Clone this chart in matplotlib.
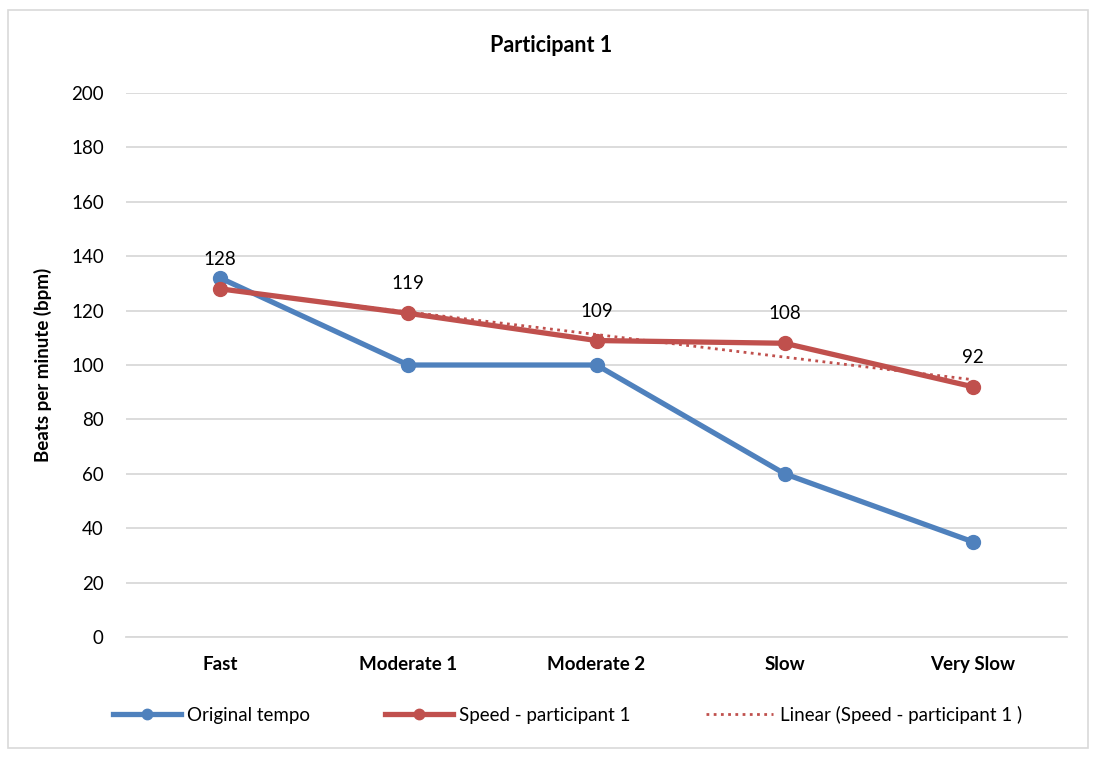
import numpy as np
import matplotlib.pyplot as plt
from matplotlib.patches import Rectangle

plt.rcParams['font.family'] = ['Lato', 'DejaVu Sans']

# Tempo categories and measured beats per minute
categories = ['Fast', 'Moderate 1', 'Moderate 2', 'Slow', 'Very Slow']
original_tempo = [132, 100, 100, 60, 35]
speed_p1 = [128, 119, 109, 108, 92]

x = np.arange(len(categories))

# Linear trendline through the participant's speeds
slope, intercept = np.polyfit(x, speed_p1, 1)
trend = slope * x + intercept

blue = '#4f81bd'
red = '#c0504d'
grid_col = '#d9d9d9'
fs = 13.5

fig = plt.figure(figsize=(10.96, 7.58), dpi=100)
ax = fig.add_axes([0.115, 0.1596, 0.8586, 0.7177])

ax.plot(x, original_tempo, color=blue, lw=3.8, marker='o', ms=10,
        label='Original tempo', zorder=3)
ax.plot(x, speed_p1, color=red, lw=3.8, marker='o', ms=10,
        label='Speed - participant 1', zorder=4)
ax.plot(x, trend, color=red, lw=2, ls=(0, (1, 1.6)),
        label='Linear (Speed - participant 1 )', zorder=5)

for xi, v in zip(x, speed_p1):
    ax.annotate(str(v), (xi, v), xytext=(0, 15), textcoords='offset points',
                ha='center', va='bottom', fontsize=fs)

ax.set_xlim(-0.5, len(categories) - 0.5)
ax.set_ylim(0, 200)
ax.set_yticks(np.arange(0, 201, 20))
ax.set_xticks(x)
ax.set_xticklabels(categories, fontweight='bold', fontsize=fs)
ax.tick_params(axis='y', labelsize=fs, length=0, pad=16)
ax.tick_params(axis='x', length=0, pad=14)
ax.yaxis.grid(True, color=grid_col, lw=1.3)
ax.set_axisbelow(True)
for side in ['top', 'right', 'left']:
    ax.spines[side].set_visible(False)
ax.spines['bottom'].set_color(grid_col)
ax.spines['bottom'].set_linewidth(1.3)

ax.set_ylabel('Beats per minute (bpm)', fontweight='bold', fontsize=fs, labelpad=14)
fig.text(0.503, 0.94, 'Participant 1', ha='center', va='center',
         fontweight='bold', fontsize=15.5)

fig.legend(loc='center', bbox_to_anchor=(0.518, 0.057), ncol=3, frameon=False,
           fontsize=fs, handlelength=3.6, columnspacing=4.0, handletextpad=0.35,
           markerscale=0.75)

fig.patches.append(Rectangle((8 / 1096, 10 / 758), 1080 / 1096, 738 / 758,
                             transform=fig.transFigure, fill=False,
                             edgecolor=grid_col, lw=1.2))

fig.savefig('out.png', dpi=100)
